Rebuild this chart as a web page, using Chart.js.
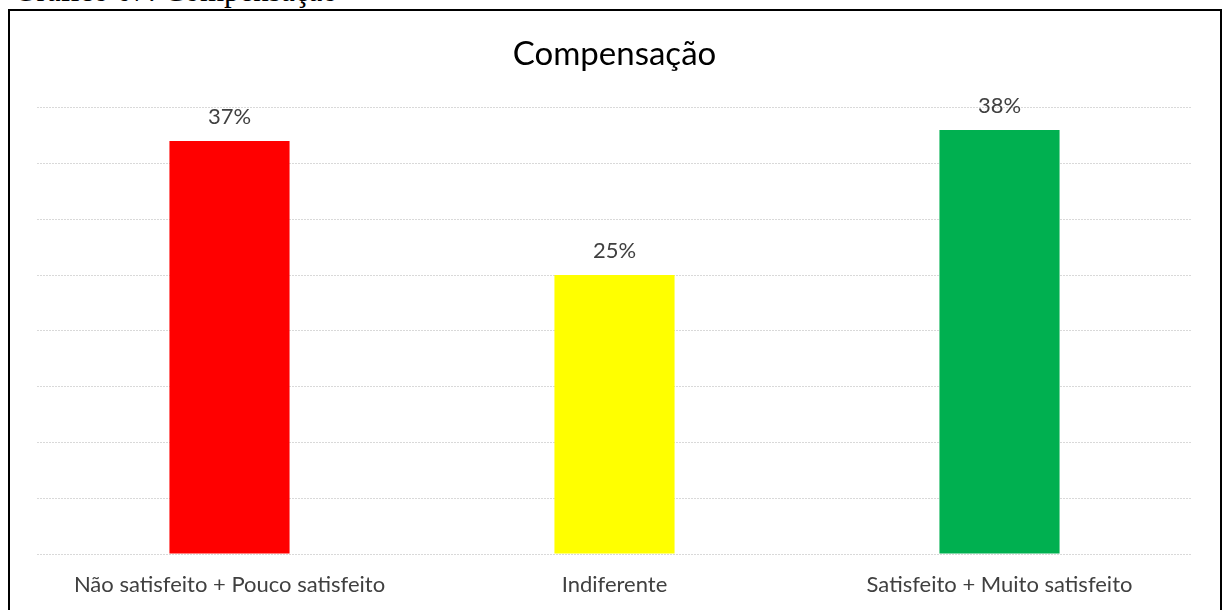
<!DOCTYPE html>
<html>
<head>
<meta charset="utf-8">
<script src="https://cdn.jsdelivr.net/npm/chart.js@4"></script>
<style>
    html, body { margin: 0; padding: 0; background: #fff; overflow: hidden; }
    #caption {
        position: absolute; left: 14px; top: -25px;
        font-family: "Liberation Serif", "DejaVu Serif", serif;
        font-size: 31px; line-height: 31px; color: #000; white-space: nowrap;
    }
    #frame {
        position: absolute; left: 8px; top: 9px; width: 1214px; height: 700px;
        border: 2px solid #000; box-sizing: border-box;
    }
    #wrap { position: absolute; left: 0; top: 0; width: 1223px; height: 610px; }
</style>
</head>
<body>
<div id="caption">Gráfico 07: Compensação</div>
<div id="frame"></div>
<div id="wrap"><canvas id="chart"></canvas></div>
<script>
// --- Data ---
const categories = ['Não satisfeito + Pouco satisfeito', 'Indiferente', 'Satisfeito + Muito satisfeito'];
const percentValues = [37, 25, 38];
const barColors = ['#FF0000', '#FFFF00', '#00B050'];
const yTicks = { min: 0, max: 40, step: 5 };

const FONT = 'Lato, "Noto Sans", sans-serif';

// Labels above each bar (no datalabels plugin available offline)
const valueLabels = {
    id: 'valueLabels',
    afterDatasetsDraw(chart) {
        const ctx = chart.ctx;
        const meta = chart.getDatasetMeta(0);
        ctx.save();
        ctx.font = '22px ' + FONT;
        ctx.fillStyle = '#404040';
        ctx.textAlign = 'center';
        ctx.textBaseline = 'alphabetic';
        meta.data.forEach((bar, i) => {
            ctx.fillText(percentValues[i] + '%', bar.x, bar.y - 17);
        });
        ctx.restore();
    }
};

document.addEventListener('DOMContentLoaded', () => {
    const ctx = document.getElementById('chart').getContext('2d');

    new Chart(ctx, {
        type: 'bar',
        data: {
            labels: categories,
            datasets: [{
                data: percentValues,
                backgroundColor: barColors,
                borderWidth: 0,
                barPercentage: 0.312,
                categoryPercentage: 1
            }]
        },
        options: {
            responsive: true,
            maintainAspectRatio: false,
            animation: false,
            layout: {
                padding: { left: 37, right: 31, top: 35, bottom: 12 }
            },
            plugins: {
                legend: { display: false },
                tooltip: { enabled: false },
                title: {
                    display: true,
                    text: 'Compensação',
                    color: '#000',
                    font: { family: FONT, size: 33, weight: 'normal' },
                    padding: { top: 0, bottom: 33 }
                }
            },
            scales: {
                x: {
                    grid: { display: false },
                    border: { display: false },
                    ticks: {
                        color: '#404040',
                        font: { family: FONT, size: 22 },
                        padding: 10,
                        maxRotation: 0,
                        autoSkip: false
                    },
                    // fixed axis height so the baseline lands where the reference has it
                    afterFit: (scale) => { scale.height = 44; }
                },
                y: {
                    min: yTicks.min,
                    max: yTicks.max,
                    ticks: { display: false, stepSize: yTicks.step },
                    grid: { color: '#d9d9d9', lineWidth: 1, drawTicks: false },
                    border: { display: false, dash: [2, 1] },
                    afterFit: (scale) => { scale.width = 0; }
                }
            }
        },
        plugins: [valueLabels]
    });
});
</script>
</body>
</html>
